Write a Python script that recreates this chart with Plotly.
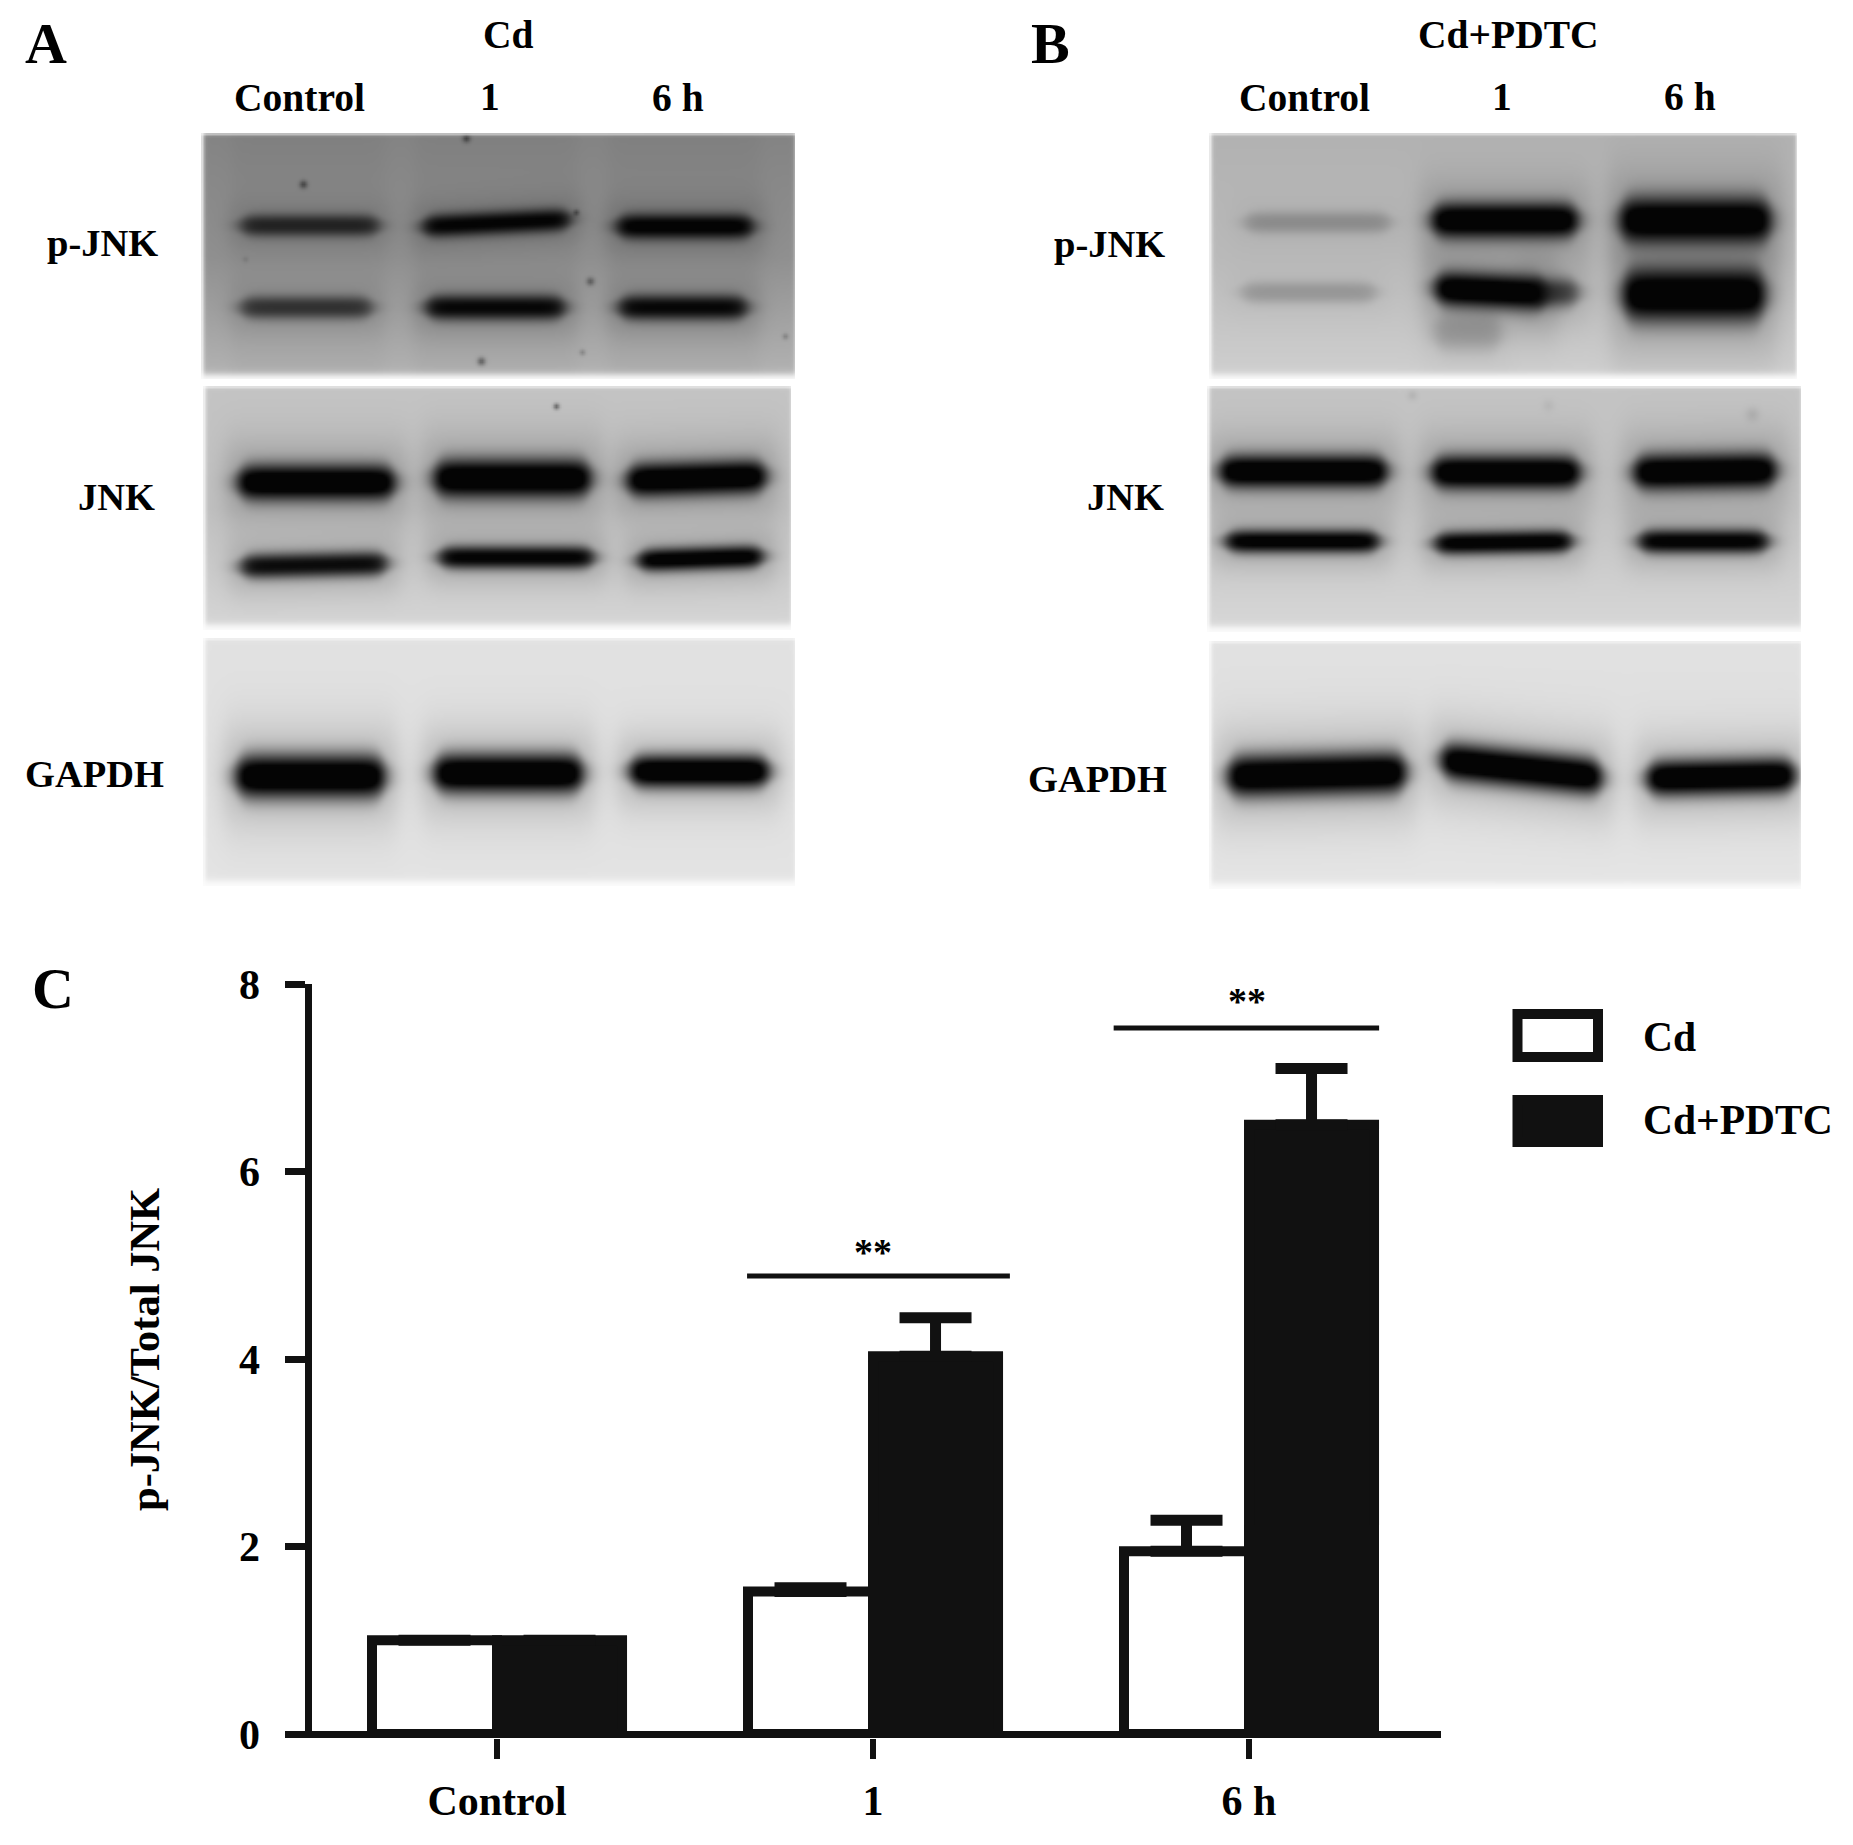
import numpy as np
import plotly.graph_objects as go

# ---------- data ----------
groups = ["Control", "1", "6 h"]
cd_values = [1.00, 1.52, 1.95]
cd_errors = [0.00, 0.04, 0.33]
pdtc_values = [1.00, 4.03, 6.50]
pdtc_errors = [0.00, 0.41, 0.60]
y_ticks = [0, 2, 4, 6, 8]
sig_spans = [(0.665, 1.364, 4.885), (1.64, 2.346, 7.53)]

# band densities per lane (0 = none, 1 = black)
a_pjnk_upper = [0.62, 0.85, 0.90]
a_pjnk_lower = [0.55, 0.82, 0.82]
a_jnk_upper = [1.0, 1.0, 1.0]
a_jnk_lower = [0.80, 0.86, 0.92]
a_gapdh = [1.0, 1.0, 1.0]
b_pjnk_upper = [0.18, 1.0, 1.0]
b_pjnk_lower = [0.16, 1.0, 1.0]
b_jnk_upper = [1.0, 1.0, 1.0]
b_jnk_lower = [0.90, 0.90, 0.88]
b_gapdh = [1.0, 1.0, 1.0]

# ---------- blot rendering ----------
INK = "#111111"
W, H = 1853, 1845
STEP = 2


def smooth(t):
    return 0.5 * (1 + np.tanh(t))


def blot(x0, x1, y0, y1, bg_top, bg_mid, bg_bot, bands, specks=(), lane_dim=0):
    xs = np.arange(x0, x1, STEP, dtype=float)
    ys = np.arange(y0, y1, STEP, dtype=float)
    X, Y = np.meshgrid(xs, ys)
    t = (Y - y0) / (y1 - y0)
    g = np.where(t < 0.5, bg_top + (bg_mid - bg_top) * t * 2, bg_mid + (bg_bot - bg_mid) * (t - 0.5) * 2)
    a = np.zeros_like(g)
    for (l, r, yl, yr, th, dens) in bands:
        sx = smooth((X - l) / 9) * smooth((r - X) / 9)
        yc = yl + (yr - yl) * (X - l) / (r - l)
        h = th / 2 * (0.5 + 0.5 * sx)
        core = np.exp(-np.abs((Y - yc) / h) ** 2.4) * sx * dens
        glow = 0.2 * dens * np.exp(-((Y - yc) / (th * 1.15)) ** 2) * smooth((X - l + 12) / 12) * smooth((r - X + 12) / 12)
        a = 1 - (1 - np.clip(core * 1.2, 0, 1)) * (1 - glow) * (1 - a)
        if lane_dim:
            g = g - lane_dim * smooth((X - l + 10) / 8) * smooth((r - X + 10) / 8)
    img = g * (1 - a) + 4 * a
    for (sxp, syp, sr, sd) in specks:
        img -= sd * np.exp(-(((X - sxp) ** 2 + (Y - syp) ** 2) / sr ** 2))
    # soft pale rim on the scanned edges
    edge = smooth((X - x0 - 1) / 2) * smooth((x1 - X - 1) / 2) * smooth((Y - y0) / 1.5) * smooth((y1 - Y - 6) / 4)
    img = img * edge + 252 * (1 - edge)
    return go.Heatmap(z=np.clip(img, 0, 255).astype(np.uint8), x0=x0, dx=STEP, y0=y0, dy=STEP,
                      xaxis="x2", yaxis="y2", zmin=0, zmax=255, zsmooth="best", showscale=False,
                      colorscale=[[0, "#000000"], [1, "#ffffff"]], hoverinfo="skip")


def bands(lanes, ys, th, dens):
    return [(l, r, y[0], y[1], t, d) for (l, r), y, t, d in zip(lanes, ys, th, dens)]


blots = [
    blot(202, 796, 134, 380, 132, 144, 180,
         bands([(241, 378), (423, 569), (617, 752)], [(225, 225), (226, 219), (226, 226)], [22, 23, 25], a_pjnk_upper)
         + bands([(241, 371), (426, 564), (619, 746)], [(307, 307), (307, 307), (307, 307)], [23, 25, 25], a_pjnk_lower),
         specks=[(303, 184, 4, 60), (466, 138, 4, 60), (576, 212, 3, 45), (590, 281, 4, 55), (481, 361, 4, 70), (582, 352, 3, 35), (785, 336, 3, 35), (245, 259, 3, 15)],
         lane_dim=2),
    blot(204, 792, 387, 630, 196, 192, 214,
         bands([(238, 394), (434, 590), (627, 765)], [(482, 482), (478, 478), (480, 476)], [36, 39, 34], a_jnk_upper)
         + bands([(241, 386), (439, 593), (638, 762)], [(566, 563), (557, 557), (560, 556)], [25, 23, 23], a_jnk_lower),
         specks=[(556, 406, 3, 90)]),
    blot(204, 796, 639, 886, 226, 224, 228,
         bands([(236, 384), (434, 582), (630, 768)], [(776, 776), (773, 773), (771, 771)], [44, 40, 33], a_gapdh)),
    blot(1210, 1797, 134, 380, 178, 186, 208,
         bands([(1245, 1389), (1432, 1577), (1620, 1770)], [(222, 222), (220, 220), (220, 220)], [22, 36, 47], b_pjnk_upper)
         + bands([(1242, 1375), (1435, 1545), (1623, 1764)], [(292, 292), (288, 293), (294, 294)], [22, 35, 54], b_pjnk_lower)
         + [(1530, 1577, 292, 292, 30, 0.55), (1435, 1500, 332, 332, 38, 0.16)]),
    blot(1208, 1802, 387, 632, 196, 196, 216,
         bands([(1220, 1386), (1432, 1579), (1634, 1775)], [(471, 471), (472, 472), (472, 470)], [33, 34, 36], b_jnk_upper)
         + bands([(1226, 1378), (1435, 1571), (1639, 1767)], [(541, 541), (543, 541), (541, 541)], [23, 23, 24], b_jnk_lower),
         specks=[(1412, 395, 5, 14), (1548, 405, 6, 10), (1752, 414, 7, 16)]),
    blot(1210, 1802, 642, 889, 226, 222, 230,
         bands([(1228, 1405), (1441, 1601), (1647, 1794)], [(776, 772), (760, 777), (778, 775)], [42, 38, 36], b_gapdh)),
]

# ---------- bar chart ----------
bar_kw = dict(marker_line_color=INK, marker_line_width=10, hoverinfo="skip", showlegend=False)
err_kw = dict(type="data", symmetric=False, color=INK, thickness=11, width=36)
bars = [
    go.Bar(x=[0, 1, 2], y=cd_values, marker_color="#ffffff", name="Cd",
           error_y=dict(array=cd_errors, arrayminus=[0, 0, 0], **err_kw), **bar_kw),
    go.Bar(x=[0, 1, 2], y=pdtc_values, marker_color=INK, name="Cd+PDTC",
           error_y=dict(array=pdtc_errors, arrayminus=[0, 0, 0], **err_kw), **bar_kw),
]
sig_traces = [go.Scatter(x=[a, b], y=[v, v], mode="lines", line=dict(color=INK, width=5),
                         hoverinfo="skip", showlegend=False) for a, b, v in sig_spans]

fig = go.Figure(blots + bars + sig_traces)

FONT = "Liberation Serif"


def label(text, x, y, size=39.5, xanchor="center", angle=0):
    return dict(text=text, x=x, y=y, xref="x2", yref="y2", showarrow=False, xanchor=xanchor, yanchor="middle",
                textangle=angle, font=dict(family=FONT, size=size, color="#000000", weight=700))


annotations = [
    label("A", 46, 43, 58), label("B", 1050, 43, 58), label("C", 53, 988, 58),
    label("Cd", 508, 35), label("Control", 299, 98), label("1", 490, 97), label("6 h", 678, 98),
    label("p-JNK", 159.5, 243, 38.5, xanchor="right"), label("JNK", 156.5, 497, 38.5, xanchor="right"), label("GAPDH", 165.5, 774, 38.5, xanchor="right"),
    label("Cd+PDTC", 1508, 35), label("Control", 1304, 98), label("1", 1502, 97), label("6 h", 1690, 97),
    label("p-JNK", 1166.5, 244, 38.5, xanchor="right"), label("JNK", 1165.5, 497, 38.5, xanchor="right"), label("GAPDH", 1168.5, 779, 38.5, xanchor="right"),
    label("p-JNK/Total JNK", 144, 1350, 42.5, angle=-90),
    label("**", 873, 1252, 38), label("**", 1247, 1001, 38),
    label("Cd", 1641, 1037, 41.5, xanchor="left"), label("Cd+PDTC", 1641, 1120, 41.5, xanchor="left"),
]
shapes = [
    dict(type="rect", x0=1517.5, x1=1598, y0=1014, y1=1057, xref="x2", yref="y2", fillcolor="#ffffff", line=dict(color=INK, width=10)),
    dict(type="rect", x0=1517.5, x1=1598, y0=1100, y1=1142, xref="x2", yref="y2", fillcolor=INK, line=dict(color=INK, width=10)),
]

tick_font = dict(family=FONT, size=42, color="#000000", weight=700)
fig.update_layout(
    width=W, height=H, margin=dict(l=0, r=0, t=0, b=0, autoexpand=False), paper_bgcolor="#ffffff", plot_bgcolor="rgba(0,0,0,0)",
    showlegend=False, barmode="group", bargap=0.335, bargroupgap=0,
    annotations=annotations, shapes=shapes,
    xaxis=dict(domain=[311.5 / W, 1441 / W], range=[-0.4934, 2.5106], tickmode="array", tickvals=[0, 1, 2], ticktext=groups,
               showgrid=False, zeroline=False, showline=False, ticks="outside", ticklen=20, tickwidth=6, tickcolor=INK,
               tickfont=tick_font, ticklabelstandoff=6, automargin=False),
    yaxis=dict(domain=[1 - 1737.5 / H, 1 - 984 / H], range=[-0.0373, 8], tickmode="array", tickvals=y_ticks,
               showgrid=False, zeroline=True, zerolinecolor=INK, zerolinewidth=7, showline=True, linecolor=INK, linewidth=7,
               ticks="outside", ticklen=20, tickwidth=7, tickcolor=INK, tickfont=tick_font, ticklabelstandoff=16, automargin=False),
    xaxis2=dict(domain=[0, 1], range=[0, W], visible=False, anchor="y2", fixedrange=True, automargin=False),
    yaxis2=dict(domain=[0, 1], range=[H, 0], visible=False, anchor="x2", fixedrange=True, automargin=False),
)

fig.write_html("out.html", config=dict(displayModeBar=False),
               post_script="document.body.style.margin='0';document.documentElement.style.overflow='hidden';")
